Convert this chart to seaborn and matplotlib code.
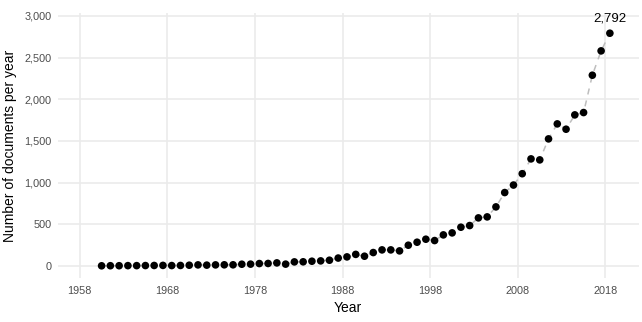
import numpy as np
import pandas as pd
import matplotlib
matplotlib.use("Agg")
import matplotlib.pyplot as plt
import seaborn as sns
from matplotlib.ticker import FuncFormatter

# Documents per year
years = np.arange(1960, 2019)
docs = [1, 2, 2, 3, 3, 4, 5, 6, 4, 5, 8, 12, 9, 12, 13, 13,
        20, 21, 28, 29, 36, 21, 48, 49, 56, 60, 68, 94, 108, 138,
        116, 160, 192, 192, 180, 248, 284, 320, 304, 372, 396, 464, 484, 576,
        588, 708, 880, 970, 1106, 1284, 1272, 1524, 1704, 1640, 1812, 1840,
        2288, 2580, 2792]
x_ticks = [1958, 1968, 1978, 1988, 1998, 2008, 2018]
y_ticks = [0, 500, 1000, 1500, 2000, 2500, 3000]

df = pd.DataFrame({"Year": years, "Documents": docs})
# points are drawn at mid-year
df["x"] = df["Year"] + 0.5

sns.set_theme(style="whitegrid")
plt.rcParams["font.family"] = ["Liberation Sans", "DejaVu Sans"]

fig = plt.figure(figsize=(6.42, 3.22), dpi=100)
ax = fig.add_axes([0.09, 0.137, 0.905, 0.823])

sns.lineplot(data=df, x="x", y="Documents", ax=ax, color="#BEBEBE",
             linewidth=1.1, linestyle=(0, (4, 4)), zorder=2)
sns.scatterplot(data=df, x="x", y="Documents", ax=ax, color="black",
                s=30, edgecolor="none", zorder=3)

last = df.iloc[-1]
ax.annotate(f"{int(last['Documents']):,}", (last["x"], last["Documents"]),
            xytext=(0, 6), textcoords="offset points", ha="center", va="bottom",
            fontsize=9.5, color="black")

ax.set_xlim(1955.5, 2021.8)
ax.set_ylim(-144, 3036)
ax.set_xticks(x_ticks)
ax.set_yticks(y_ticks)
ax.yaxis.set_major_formatter(FuncFormatter(lambda v, p: f"{int(v):,}"))

ax.set_facecolor("white")
for s in ax.spines.values():
    s.set_visible(False)
ax.grid(True, color="#EBEBEB", linewidth=1.2)
ax.set_axisbelow(True)
ax.tick_params(axis="both", length=0, labelsize=7.8, labelcolor="#4D4D4D")
ax.tick_params(axis="x", pad=6)
ax.tick_params(axis="y", pad=4.5)

ax.set_xlabel("Year", fontsize=10, color="black", labelpad=3.5)
ax.set_ylabel("Number of documents per year", fontsize=10, color="black", labelpad=5)

fig.savefig("out.png", dpi=100)
